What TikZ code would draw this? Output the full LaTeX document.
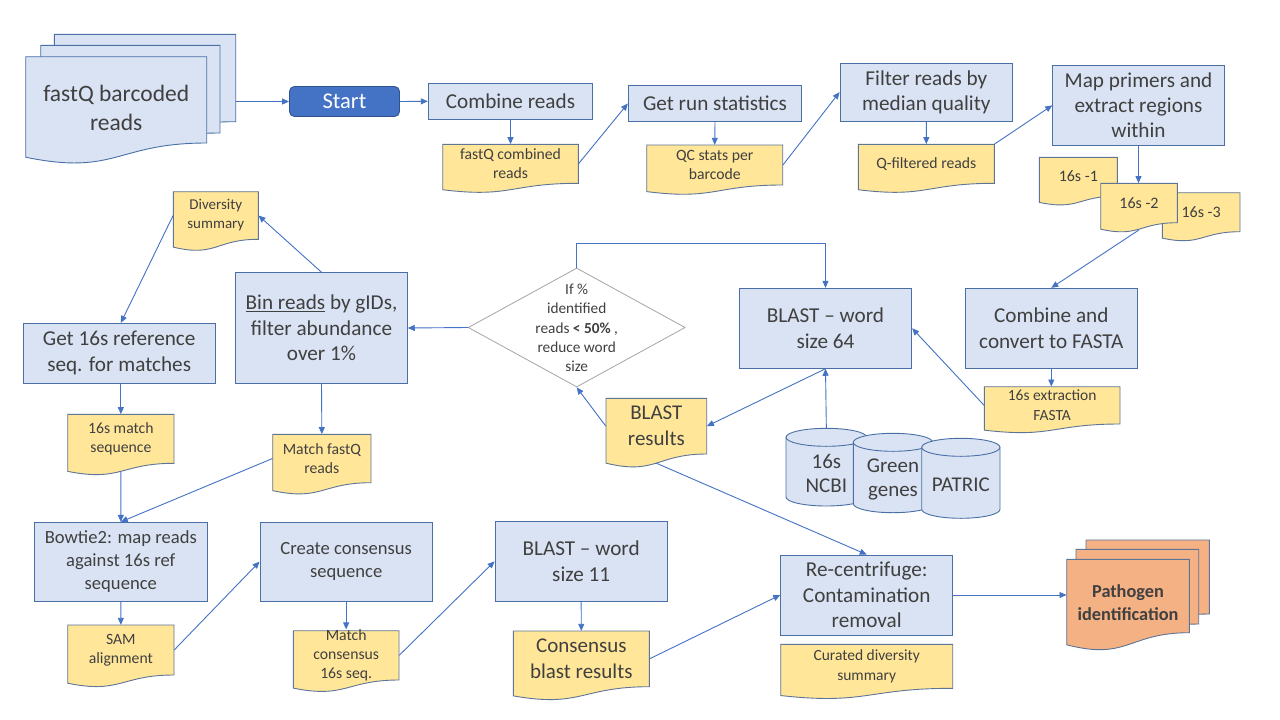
\documentclass[tikz,border=0pt]{standalone}
\usepackage{fontspec}
\setmainfont{Carlito}
\usetikzlibrary{arrows.meta,shapes.geometric,calc}
\definecolor{boxfill}{HTML}{DAE3F3}
\definecolor{boxline}{HTML}{4A6FA5}
\definecolor{docfill}{HTML}{FFE699}
\definecolor{docline}{HTML}{5E7597}
\definecolor{arrowc}{HTML}{4472C4}
\definecolor{txt}{HTML}{404040}
\definecolor{startfill}{HTML}{4472C4}
\definecolor{startline}{HTML}{2F528F}
\definecolor{orangefill}{HTML}{F4B183}
\definecolor{diagline}{HTML}{A5A5A5}
\newcommand{\fs}[2]{\fontsize{#1}{#2}\selectfont}
% document-shaped outline: style, x1, y1, x2, y2 (right bottom)
\newcommand{\docpath}[5]{%
  \pgfmathsetmacro{\docH}{(#5-#3)/0.802}%
  \pgfmathsetmacro{\docMX}{(#2+#4)/2}%
  \pgfmathsetmacro{\docCY}{#3+1.108*\docH}%
  \pgfmathsetmacro{\docLY}{#3+0.934*\docH}%
  \draw[#1] (#2,#3) -- (#4,#3) -- (#4,#5) .. controls (\docMX,#5) and (\docMX,\docCY) .. (#2,\docLY) -- cycle;
}
% name, style, x1, y1, x2, y2r, font, text
\newcommand{\docnode}[8]{%
  \docpath{#2}{#3}{#4}{#5}{#6}
  \node[doctext, font={#7}, minimum width={(#5-#3)*1pt}, minimum height={(#6-#4)*1pt}] (#1) at ({(#3+#5)/2},{(#4+#6)/2}) {#8};
}
% name, x1, y1, x2, y2, font, text
\newcommand{\procnode}[7]{%
  \node[procbox, font={#6}, minimum width={(#4-#2)*1pt}, minimum height={(#5-#3)*1pt}] (#1) at ({(#2+#4)/2},{(#3+#5)/2}) {#7};
}
% name, x1, ytop, x2, ybot, text
\newcommand{\cylnode}[6]{%
  \pgfmathsetmacro{\cylRX}{(#4-#2)/2}%
  \draw[cylsty] (#2,{#3+9}) -- (#2,{#5-9}) arc[start angle=180,end angle=360,x radius={\cylRX*1pt},y radius=9pt] -- (#4,{#3+9}) arc[start angle=0,end angle=180,x radius={\cylRX*1pt},y radius=9pt] -- cycle;
  \draw[cylsty, fill=none] (#2,{#3+9}) arc[start angle=180,end angle=360,x radius={\cylRX*1pt},y radius=9pt];
  \node[cyltext, minimum width={(#4-#2)*1pt}, minimum height={(#5-#3-12)*1pt}] (#1) at ({(#2+#4)/2},{(#3+12+#5)/2}) {#6};
}
\begin{document}
\begin{tikzpicture}[x=1pt,y=-1pt,
  procbox/.style={draw=boxline, fill=boxfill, line width=0.9pt, inner sep=0pt, align=center, text=txt},
  doctext/.style={draw=none, inner sep=0pt, align=center, text=txt},
  yellowdoc/.style={draw=docline, fill=docfill, line width=0.9pt},
  bluedoc/.style={draw=boxline, fill=boxfill, line width=0.9pt},
  orangedoc/.style={draw=docline, fill=orangefill, line width=0.9pt},
  cylsty/.style={draw=boxline, fill=boxfill, line width=0.9pt},
  cyltext/.style={draw=none, inner sep=0pt, align=center, text=txt, font=\fs{21}{24}},
  arr/.style={draw=arrowc, line width=0.9pt, -{Triangle[length=7pt,width=6pt]}},
]
\useasboundingbox (0,0) rectangle (1280,720);
\fill[white] (0,0) rectangle (1280,720);

% ---------- fastQ stack ----------
\docpath{bluedoc}{54.3}{34.3}{235.7}{121.7}
\docpath{bluedoc}{40.7}{45.3}{220}{133}
\docpath{bluedoc}{25.7}{56.7}{206.7}{143}
\node[doctext, font=\fs{23.5}{29}, minimum width=181pt, minimum height=102pt] (fastq) at (116.2,108) {fastQ barcoded\\reads};
\node[draw=none, inner sep=0pt, minimum width=210pt, minimum height=109pt] (fastqstack) at (130.7,89.5) {};

% ---------- start ----------
\node[draw=startline, fill=startfill, line width=0.9pt, rounded corners=5pt, text=white,
      font=\fs{22.5}{26}, minimum width=110pt, minimum height=30pt, inner sep=0pt] (start) at (344.5,101.5) {Start};

% ---------- top row ----------
\procnode{combine}{428.3}{83.3}{592.7}{119.3}{\fs{21.2}{25}}{Combine reads}
\procnode{getrun}{628.3}{85.3}{801.7}{121.7}{\fs{21.2}{25}}{Get run statistics}
\procnode{filter}{840}{63.3}{1012.7}{121}{\fs{21.2}{25}}{Filter reads by\\median quality}
\procnode{map}{1052.7}{65}{1224.3}{145.7}{\fs{21.2}{25}}{Map primers and\\extract regions\\within}

\docnode{fqc}{yellowdoc}{442.7}{144.3}{578.3}{183.3}{\fs{15.7}{19}}{fastQ combined\\reads}
\docnode{qc}{yellowdoc}{646.7}{145}{782.7}{185}{\fs{15.7}{19}}{QC stats per\\barcode}
\docnode{qfilt}{yellowdoc}{858.3}{144.3}{994.3}{183.3}{\fs{15.7}{19}}{Q-filtered reads}

\docnode{s1}{yellowdoc}{1039.3}{157.3}{1117.3}{196}{\fs{16}{19}}{16s -1}
\docnode{s3}{yellowdoc}{1162.3}{192.7}{1240}{231.7}{\fs{16}{19}}{16s -3}
\docnode{s2}{yellowdoc}{1100.7}{183.3}{1177.3}{222.7}{\fs{16}{19}}{16s -2}

% ---------- middle ----------
\procnode{comb}{965.3}{288.3}{1137.3}{368.3}{\fs{21.2}{26}}{Combine and\\convert to FASTA}
\docnode{fasta}{yellowdoc}{984.3}{386.7}{1120}{424}{\fs{15.5}{19.5}}{16s extraction\\FASTA}
\procnode{blast64}{739.3}{288.3}{911.7}{368.3}{\fs{21.2}{26}}{BLAST \textendash\ word\\size 64}
\docnode{bres}{yellowdoc}{606}{398.3}{706.7}{454}{\fs{21}{26}}{BLAST\\results}

\cylnode{ncbi}{786}{428.3}{866.7}{506}{16s\\NCBI}
\cylnode{green}{853.3}{433.3}{932.7}{512.7}{Green\\genes}
\cylnode{patric}{921.7}{438.3}{1000}{518.3}{PATRIC}

\node[diamond, draw=diagline, fill=white, line width=0.8pt, minimum width=217pt, minimum height=119pt, inner sep=0pt] (dia) at (576.7,327.5) {};
\node[draw=none, inner sep=0pt, align=center, text=txt, font=\fs{15.3}{19.2}] (diatext) at (576.7,328) {If \%\\identified\\reads \textbf{< 50\%} ,\\reduce word\\size};
\coordinate (looptop) at (700,243.3);

\procnode{bin}{235.7}{272.7}{407.3}{383.3}{\fs{21.2}{25.5}}{\underline{Bin reads} by gIDs,\\filter abundance\\over 1\%}
\docnode{div}{yellowdoc}{173.3}{191.7}{258.3}{239.3}{\fs{15}{19}}{Diversity\\summary}
\procnode{get16}{23.3}{323.3}{215}{383.3}{\fs{21.2}{26}}{Get 16s reference\\seq. for matches}
\docnode{m16}{yellowdoc}{67.7}{414.3}{174}{463.3}{\fs{15.7}{19}}{16s match\\sequence}
\docnode{mfq}{yellowdoc}{272.7}{434.3}{371}{482.7}{\fs{15.7}{19}}{Match fastQ\\reads}

% ---------- bottom row ----------
\procnode{bowtie}{34.3}{522.3}{207.3}{601}{\fs{18.6}{23}}{Bowtie2: map reads\\against 16s ref\\sequence}
\docnode{sam}{yellowdoc}{67.7}{625}{174}{675}{\fs{15.7}{19}}{SAM\\alignment}
\procnode{create}{260}{522.3}{432.3}{601}{\fs{18.6}{23.3}}{Create consensus\\sequence}
\docnode{mcons}{yellowdoc}{293.3}{630.7}{399}{680}{\fs{15.7}{19}}{Match\\consensus\\16s seq.}
\procnode{blast11}{495}{521.7}{667.3}{601}{\fs{21.2}{26}}{BLAST \textendash\ word\\size 11}
\docnode{cbr}{yellowdoc}{513.3}{631}{649.3}{686.7}{\fs{21}{26}}{Consensus\\blast results}
\procnode{recent}{780.7}{555}{952.7}{635}{\fs{21.2}{25.5}}{Re-centrifuge:\\Contamination\\removal}
\docnode{curated}{yellowdoc}{780.7}{644.3}{952.7}{688.3}{\fs{15.5}{19.3}}{Curated diversity\\summary}

\docpath{orangedoc}{1086}{540}{1209.3}{614}
\docpath{orangedoc}{1076}{549.3}{1198.7}{624}
\docpath{orangedoc}{1066.7}{559.3}{1189.3}{632.7}
\node[doctext, font=\fs{18.3}{23}\bfseries, minimum width=122.6pt, minimum height=86pt] (path) at (1128,602.3) {Pathogen\\identification};

% ---------- connectors ----------
\draw[arr] (fastqstack.east |- start.west) -- (start.west);
\draw[arr] (start.east) -- (combine.west);
\draw[arr] (combine.south) -- (fqc.north);
\draw[arr] (fqc.east) -- (getrun.west);
\draw[arr] (getrun.south) -- (qc.north);
\draw[arr] (qc.east) -- (filter.west);
\draw[arr] (filter.south) -- (qfilt.north);
\draw[arr] (qfilt.north east) -- (map.west);
\draw[arr] (map.south) -- (s2.north -| map.south);
\draw[arr] ($(s2.south)+(0,7)$) -- (comb.north);
\draw[arr] (comb.south) -- (fasta.north -| comb.south);
\draw[arr] (fasta.west) -- (blast64.east);
\draw[arr] (ncbi.north) ++(0,-12) -- (blast64.south);
\draw[arr] (blast64.south) -- (bres.east);
\draw[arr] (bres.west) -- (dia.south);
\draw[arr] (dia.north) -- (dia.north |- looptop) -- (blast64.north |- looptop) -- (blast64.north);
\draw[arr] (dia.west) -- (bin.east);
\draw[arr] (bin.north) -- (div.east);
\draw[arr] (div.west) -- (get16.north -| m16.north);
\draw[arr] (m16.north |- get16.south) -- (m16.north);
\draw[arr] (bin.south) -- (mfq.north);
\draw[arr] ($(m16.south)+(0,8)$) -- (bowtie.north);
\draw[arr] (mfq.west) -- (bowtie.north);
\draw[arr] (bowtie.south) -- (sam.north);
\draw[arr] (sam.east) -- (create.west);
\draw[arr] (create.south) -- (mcons.north);
\draw[arr] (mcons.east) -- (blast11.west);
\draw[arr] (blast11.south) -- (cbr.north);
\draw[arr] (cbr.east) -- (recent.west);
\draw[arr] ($(bres.south)+(0,9)$) -- (recent.north);
\draw[arr] (recent.east) -- (recent.east -| path.west);
\end{tikzpicture}
\end{document}
